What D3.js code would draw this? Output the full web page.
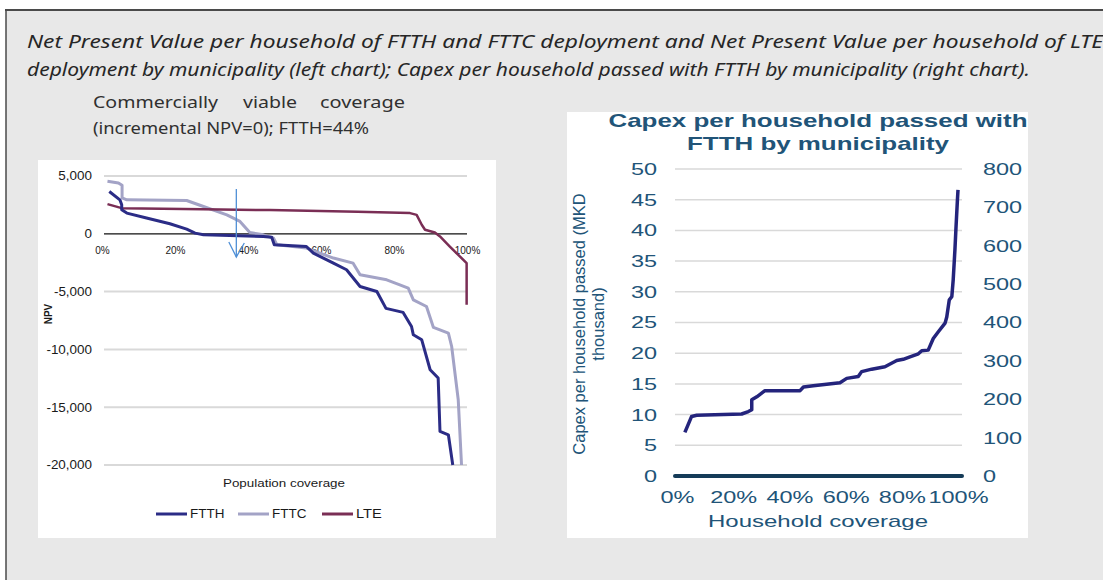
<!DOCTYPE html>
<html>
<head>
<meta charset="utf-8">
<script src="https://cdn.jsdelivr.net/npm/d3@7"></script>
<style>
  html, body { margin: 0; padding: 0; background: #fff; }
  svg { display: block; }
</style>
</head>
<body>
<svg id="chart" width="1103" height="580"></svg>
<script>
// NPV per household (left chart), coverage in % and NPV values
const ftthCov = [2, 4.9, 5.4, 5.4, 6.8, 12.2, 18.6, 23.2, 25.5, 27.8, 35, 44.2, 46.5, 47.2, 56, 57.9, 63.4, 67, 70.7, 75.3, 77.8, 82.5, 84.8, 85.3, 87.6, 89.9, 92.1, 92.6, 94.9, 96.1];
const ftthNpv = [3660, 2940, 2510, 2076, 1790, 1360, 865, 400, 60, -90, -150, -230, -300, -950, -1100, -1670, -2540, -3110, -4560, -4990, -6450, -6800, -8020, -8740, -9170, -11760, -12480, -17100, -17390, -20000];

const fttcCov = [1.5, 4.5, 5.5, 5.5, 6.8, 23.2, 27.8, 34.2, 37.8, 40.5, 44.2, 47, 47.9, 56, 63.4, 68.8, 70.7, 78, 81.6, 83.9, 85.3, 88.9, 90.8, 94.9, 95.8, 97.6, 98.5];
const fttcNpv = [4550, 4400, 4200, 3100, 2940, 2880, 2360, 1640, 1070, 110, -90, -375, -950, -1240, -2100, -2540, -3550, -3980, -4410, -4700, -5710, -6290, -8100, -8590, -9750, -14360, -20000];

const lteCov = [1.5, 5.4, 27.7, 46, 70, 84.4, 86.2, 87.6, 88.5, 91.2, 92.6, 95.3, 97.6, 99.9, 99.9];
const lteNpv = [2570, 2220, 2130, 2050, 1900, 1790, 1640, 780, 346, 115, -230, -1100, -1820, -2540, -6140];

// Capex per household passed with FTTH (right chart)
const capexCov = [2.8, 5.2, 7, 23, 25.4, 26.6, 26.6, 28.4, 31.3, 43.8, 45, 48.5, 58, 60.4, 64.5, 65.7, 69.3, 74, 78.2, 80.5, 82.9, 85.9, 87.1, 89.4, 91.2, 93, 95.4, 96, 96.9, 97.8, 98.3, 98.9, 99.3, 99.8, 100];
const capexVal = [7.1, 9.7, 9.9, 10.1, 10.5, 10.8, 12.4, 12.9, 13.9, 13.9, 14.5, 14.7, 15.2, 15.9, 16.2, 17.0, 17.4, 17.8, 18.8, 19.0, 19.4, 19.9, 20.4, 20.5, 22.4, 23.5, 24.9, 25.9, 28.7, 29.2, 32.0, 36.8, 40.6, 45.0, 46.6];

// Ticks
const npvTicks = [5000, 0, -5000, -10000, -15000, -20000];
const covTicks = [0, 20, 40, 60, 80, 100];
const capexTicks = [0, 5, 10, 15, 20, 25, 30, 35, 40, 45, 50];
const capexRightTicks = [0, 100, 200, 300, 400, 500, 600, 700, 800];

const legendNames = ['FTTH', 'FTTC', 'LTE'];
const legendColors = ['#2b2c86', '#a3a3c6', '#7a2e55'];

const svg = d3.select('#chart');

// Page background and frame
svg.append('rect').attr('x', 6).attr('y', 10).attr('width', 1097).attr('height', 570).attr('fill', '#e8e8e8');
svg.append('line').attr('x1', 5).attr('x2', 1103).attr('y1', 10).attr('y2', 10).attr('stroke', '#4a4a4a').attr('stroke-width', 2);
svg.append('line').attr('x1', 6).attr('x2', 6).attr('y1', 10).attr('y2', 580).attr('stroke', '#4a4a4a').attr('stroke-width', 1.5);

// Caption
const caption = [
    { t: 'Net Present Value per household of FTTH and FTTC deployment and Net Present Value per household of LTE', y: 48, len: 1076 },
    { t: 'deployment by municipality (left chart); Capex per household passed with FTTH by municipality (right chart).', y: 76, len: 1003 }
];
caption.forEach(c => {
    svg.append('text')
        .attr('x', 27).attr('y', c.y)
        .attr('textLength', c.len).attr('lengthAdjust', 'spacingAndGlyphs')
        .style('font-family', '"Noto Sans", "Open Sans", sans-serif')
        .style('font-style', 'italic')
        .style('font-size', '18px')
        .attr('fill', '#262626')
        .text(c.t);
});

// Annotation (justified words)
const noteWords = [
    { t: 'Commercially', x: 93, len: 125 },
    { t: 'viable', x: 243, len: 54 },
    { t: 'coverage', x: 320, len: 85 }
];
noteWords.forEach(w => {
    svg.append('text')
        .attr('x', w.x).attr('y', 108)
        .attr('textLength', w.len).attr('lengthAdjust', 'spacingAndGlyphs')
        .style('font-family', '"Noto Sans", "Open Sans", sans-serif')
        .style('font-size', '17px')
        .attr('fill', '#303030')
        .text(w.t);
});
svg.append('text')
    .attr('x', 93).attr('y', 134)
    .attr('textLength', 276).attr('lengthAdjust', 'spacingAndGlyphs')
    .style('font-family', '"Noto Sans", "Open Sans", sans-serif')
    .style('font-size', '17px')
    .attr('fill', '#303030')
    .text('(incremental NPV=0); FTTH=44%');

// ---------- Left chart ----------
svg.append('rect').attr('x', 38).attr('y', 160).attr('width', 458).attr('height', 378).attr('fill', '#fff');

const xL = d3.scaleLinear([0, 100], [102, 467]);
const yL = d3.scaleLinear([-20000, 5000], [465, 176]);
const sxL = 1.12;

// gridlines
svg.append('g').selectAll('line')
    .data(npvTicks.filter(d => d !== 0))
    .join('line')
    .attr('x1', 104).attr('x2', 467)
    .attr('y1', d => yL(d)).attr('y2', d => yL(d))
    .attr('stroke', '#d9d9d9').attr('stroke-width', 2);

// y axis
const yAxisL = svg.append('g')
    .attr('transform', 'translate(104,0)')
    .call(d3.axisLeft(yL).tickValues(npvTicks).tickSize(0).tickPadding(12)
        .tickFormat(d => d3.format(',')(d).replace('\u2212', '-')));
yAxisL.select('.domain').remove();
yAxisL.selectAll('text')
    .attr('x', -12 / sxL)
    .attr('transform', `scale(${sxL},1)`)
    .style('font-family', '"Liberation Sans", Arial, sans-serif')
    .style('font-size', '12px')
    .attr('fill', '#1a1a1a');

// zero line + x axis labels
svg.append('line')
    .attr('x1', 104).attr('x2', 467)
    .attr('y1', yL(0)).attr('y2', yL(0))
    .attr('stroke', '#111').attr('stroke-width', 1.2);
const xAxisL = svg.append('g')
    .attr('transform', `translate(0,${yL(0)})`)
    .call(d3.axisBottom(xL).tickValues(covTicks).tickSize(0).tickPadding(13).tickFormat(d => d + '%'));
xAxisL.select('.domain').remove();
xAxisL.selectAll('text')
    .style('font-family', '"Liberation Sans", Arial, sans-serif')
    .style('font-size', '10px')
    .attr('fill', '#1a1a1a');

// series
const lineL = d3.line().x(d => xL(d[0])).y(d => yL(d[1]));
const seriesL = [
    { cov: fttcCov, v: fttcNpv, c: legendColors[1], w: 3 },
    { cov: lteCov, v: lteNpv, c: legendColors[2], w: 2.5 },
    { cov: ftthCov, v: ftthNpv, c: legendColors[0], w: 3 }
];
seriesL.forEach(s => {
    svg.append('path')
        .datum(d3.zip(s.cov, s.v))
        .attr('d', lineL)
        .attr('fill', 'none')
        .attr('stroke', s.c)
        .attr('stroke-width', s.w)
        .attr('stroke-linejoin', 'round');
});

// viability arrow
const arrowX = xL(36.8);
svg.append('line')
    .attr('x1', arrowX).attr('x2', arrowX).attr('y1', 189).attr('y2', 257)
    .attr('stroke', '#4f8fd6').attr('stroke-width', 1.3);
svg.append('path')
    .attr('d', `M${arrowX - 7.5},242 L${arrowX},257 L${arrowX + 8},243`)
    .attr('fill', 'none').attr('stroke', '#4f8fd6').attr('stroke-width', 1.3);

// axis titles
svg.append('text')
    .attr('transform', 'translate(52,314) rotate(-90)')
    .attr('text-anchor', 'middle')
    .style('font-family', '"Liberation Sans", Arial, sans-serif')
    .style('font-size', '10px')
    .style('font-weight', 'bold')
    .attr('fill', '#1a1a1a')
    .text('NPV');
svg.append('text')
    .attr('x', 284).attr('y', 487)
    .attr('text-anchor', 'middle')
    .attr('textLength', 122).attr('lengthAdjust', 'spacingAndGlyphs')
    .style('font-family', '"Liberation Sans", Arial, sans-serif')
    .style('font-size', '11.5px')
    .attr('fill', '#1a1a1a')
    .text('Population coverage');

// legend
const legendX = [156, 238, 322];
legendNames.forEach((n, i) => {
    svg.append('line')
        .attr('x1', legendX[i]).attr('x2', legendX[i] + 31)
        .attr('y1', 514).attr('y2', 514)
        .attr('stroke', legendColors[i]).attr('stroke-width', 3);
    svg.append('text')
        .attr('x', legendX[i] + 34).attr('y', 518)
        .attr('textLength', n.length * 8.6).attr('lengthAdjust', 'spacingAndGlyphs')
        .style('font-family', '"Liberation Sans", Arial, sans-serif')
        .style('font-size', '12px')
        .attr('fill', '#1a1a1a')
        .text(n);
});

// ---------- Right chart ----------
svg.append('rect').attr('x', 567).attr('y', 112).attr('width', 461).attr('height', 426).attr('fill', '#fff');

const xR = d3.scaleLinear([0, 100], [677, 958]);
const yR = d3.scaleLinear([0, 50], [476, 169]);
const yR2 = d3.scaleLinear([0, 800], [476, 169]);
const textBlue = '#215478';
const sxR = 1.38;
const fontR = '"Liberation Sans", Arial, sans-serif';

// title
[{ t: 'Capex per household passed with', y: 127, len: 419 },
 { t: 'FTTH by municipality', y: 150, len: 262 }].forEach(l => {
    svg.append('text')
        .attr('x', 818).attr('y', l.y)
        .attr('text-anchor', 'middle')
        .attr('textLength', l.len).attr('lengthAdjust', 'spacingAndGlyphs')
        .style('font-family', fontR)
        .style('font-size', '19px')
        .style('font-weight', 'bold')
        .attr('fill', textBlue)
        .text(l.t);
});

// gridlines
svg.append('g').selectAll('line')
    .data(capexTicks.filter(d => d !== 0))
    .join('line')
    .attr('x1', 675).attr('x2', 962)
    .attr('y1', d => yR(d)).attr('y2', d => yR(d))
    .attr('stroke', '#d9d9d9').attr('stroke-width', 1.5);

// left axis
const yAxisR = svg.append('g')
    .attr('transform', 'translate(657,0)')
    .call(d3.axisLeft(yR).tickValues(capexTicks).tickSize(0).tickPadding(0));
yAxisR.select('.domain').remove();
yAxisR.selectAll('text')
    .attr('x', 0)
    .attr('transform', `scale(${sxR},1)`)
    .style('font-family', fontR)
    .style('font-size', '17px')
    .attr('fill', textBlue);

// right axis
const yAxisR2 = svg.append('g')
    .attr('transform', 'translate(983,0)')
    .call(d3.axisRight(yR2).tickValues(capexRightTicks).tickSize(0).tickPadding(0));
yAxisR2.select('.domain').remove();
yAxisR2.selectAll('text')
    .attr('x', 0)
    .attr('transform', `scale(${sxR},1)`)
    .style('font-family', fontR)
    .style('font-size', '17px')
    .attr('fill', textBlue);

// bottom axis
const xAxisR = svg.append('g')
    .attr('transform', `translate(0,${yR(0) + 15})`)
    .call(d3.axisBottom(xR).tickValues(covTicks).tickSize(0).tickPadding(0).tickFormat(d => d + '%'));
xAxisR.select('.domain').remove();
xAxisR.selectAll('text')
    .attr('x', 0)
    .attr('transform', `scale(${sxR},1)`)
    .style('font-family', fontR)
    .style('font-size', '17px')
    .attr('fill', textBlue);

// capex line
svg.append('path')
    .datum(d3.zip(capexCov, capexVal))
    .attr('d', d3.line().x(d => xR(d[0])).y(d => yR(d[1])))
    .attr('fill', 'none')
    .attr('stroke', '#24247c')
    .attr('stroke-width', 3.5)
    .attr('stroke-linejoin', 'round');

// baseline (zero)
svg.append('line')
    .attr('x1', 675).attr('x2', 962)
    .attr('y1', yR(0)).attr('y2', yR(0))
    .attr('stroke', '#153b58').attr('stroke-width', 4)
    .attr('stroke-linecap', 'round');

// axis titles
svg.append('text')
    .attr('x', 818).attr('y', 527)
    .attr('text-anchor', 'middle')
    .attr('textLength', 220).attr('lengthAdjust', 'spacingAndGlyphs')
    .style('font-family', fontR)
    .style('font-size', '17px')
    .attr('fill', textBlue)
    .text('Household coverage');
[{ t: 'Capex per household passed (MKD', x: 585 }, { t: 'thousand)', x: 604 }].forEach(l => {
    svg.append('text')
        .attr('transform', `translate(${l.x},324) rotate(-90)`)
        .attr('text-anchor', 'middle')
        .style('font-family', fontR)
        .style('font-size', '16.5px')
        .attr('fill', textBlue)
        .text(l.t);
});
</script>
</body>
</html>
